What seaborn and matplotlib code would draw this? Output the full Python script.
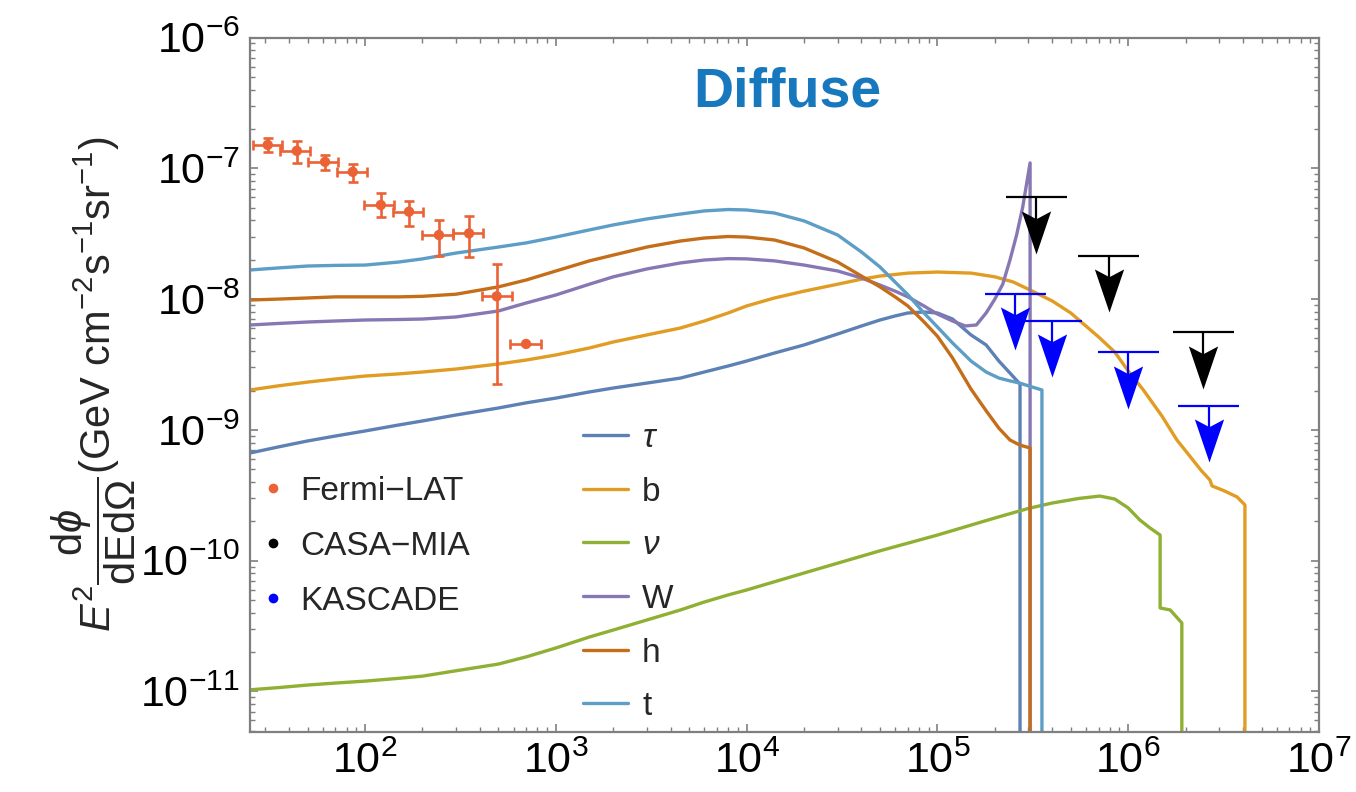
import numpy as np
import matplotlib
matplotlib.use("Agg")
import matplotlib.pyplot as plt
import seaborn as sns
from matplotlib.path import Path
from matplotlib.ticker import FixedLocator, LogLocator, LogFormatterSciNotation, NullFormatter

# ---------------- data: E [GeV], E^2 dphi/dE dOmega [GeV cm^-2 s^-1 sr^-1] ----------------
tau_E = [25, 35, 50, 70, 100, 150, 200, 300, 500, 700, 1e3, 1.5e3, 2e3, 3e3, 4.5e3, 6e3,
         8e3, 1e4, 1.4e4, 2e4, 3e4, 4e4, 5e4, 6e4, 7e4, 8.5e4, 1e5, 1.2e5, 1.5e5, 1.8e5,
         2.1e5, 2.4e5, 2.71e5, 2.71e5]
tau_F = [6.66e-10, 7.40e-10, 8.23e-10, 8.98e-10, 9.81e-10, 1.09e-9, 1.17e-9, 1.30e-9,
         1.47e-9, 1.61e-9, 1.75e-9, 1.95e-9, 2.09e-9, 2.28e-9, 2.49e-9, 2.77e-9, 3.08e-9,
         3.36e-9, 3.87e-9, 4.46e-9, 5.41e-9, 6.23e-9, 6.92e-9, 7.43e-9, 7.83e-9, 7.97e-9,
         7.83e-9, 7.04e-9, 5.32e-9, 4.46e-9, 3.36e-9, 2.72e-9, 2.24e-9, 1e-13]

b_E = [25, 35, 50, 70, 100, 150, 200, 300, 500, 700, 1e3, 1.5e3, 2e3, 3e3, 4.5e3, 6e3,
       8e3, 1e4, 1.4e4, 2e4, 3e4, 4e4, 5e4, 7e4, 1e5, 1.5e5, 2e5, 2.5e5, 3e5, 4e5, 5e5,
       7e5, 8.5e5, 1e6, 1.2e6, 1.5e6, 1.8e6, 2.1e6, 2.4e6, 2.68e6, 2.75e6, 3.2e6, 3.72e6,
       4.09e6, 4.09e6]
b_F = [2.02e-9, 2.17e-9, 2.32e-9, 2.45e-9, 2.58e-9, 2.68e-9, 2.77e-9, 2.92e-9, 3.19e-9,
       3.42e-9, 3.74e-9, 4.23e-9, 4.70e-9, 5.32e-9, 6.01e-9, 6.80e-9, 7.83e-9, 8.86e-9,
       1.02e-8, 1.15e-8, 1.30e-8, 1.42e-8, 1.50e-8, 1.58e-8, 1.61e-8, 1.58e-8, 1.48e-8,
       1.35e-8, 1.19e-8, 9.67e-9, 7.83e-9, 5.13e-9, 3.94e-9, 2.82e-9, 2.02e-9, 1.28e-9,
       8.37e-10, 6.32e-10, 4.94e-10, 4.14e-10, 3.73e-10, 3.41e-10, 3.07e-10, 2.67e-10,
       1e-13]

nu_E = [25, 35, 50, 70, 100, 150, 200, 300, 500, 700, 1e3, 1.5e3, 2e3, 3e3, 4.5e3, 6e3,
        8e3, 1e4, 2e4, 5e4, 1e5, 2e5, 3e5, 4e5, 5.5e5, 7.1e5, 8.5e5, 1e6, 1.15e6, 1.3e6,
        1.47e6, 1.47e6, 1.66e6, 1.91e6, 1.91e6]
nu_F = [1.03e-11, 1.07e-11, 1.12e-11, 1.16e-11, 1.20e-11, 1.26e-11, 1.31e-11, 1.44e-11,
        1.62e-11, 1.84e-11, 2.15e-11, 2.61e-11, 2.95e-11, 3.52e-11, 4.20e-11, 4.83e-11,
        5.47e-11, 5.97e-11, 8.05e-11, 1.19e-10, 1.57e-10, 2.12e-10, 2.51e-10, 2.76e-10,
        2.99e-10, 3.12e-10, 2.96e-10, 2.53e-10, 2.05e-10, 1.78e-10, 1.57e-10, 4.35e-11,
        4.20e-11, 3.34e-11, 1e-13]

W_E = [25, 35, 50, 70, 100, 150, 200, 300, 500, 700, 1e3, 1.5e3, 2e3, 3e3, 4.5e3, 6e3,
       8e3, 1e4, 1.4e4, 2e4, 3e4, 4e4, 5e4, 6e4, 7e4, 8.5e4, 1e5, 1.2e5, 1.4e5, 1.6e5,
       1.8e5, 2.0e5, 2.2e5, 2.4e5, 2.6e5, 2.8e5, 3.06e5, 3.06e5]
W_F = [6.34e-9, 6.51e-9, 6.68e-9, 6.80e-9, 6.92e-9, 6.98e-9, 7.04e-9, 7.30e-9, 8.11e-9,
       9.34e-9, 1.075e-8, 1.30e-8, 1.48e-8, 1.70e-8, 1.89e-8, 1.99e-8, 2.04e-8, 2.03e-8,
       1.96e-8, 1.82e-8, 1.64e-8, 1.45e-8, 1.28e-8, 1.15e-8, 1.04e-8, 8.86e-9, 7.69e-9,
       6.80e-9, 6.23e-9, 6.34e-9, 7.83e-9, 1.0e-8, 1.30e-8, 1.99e-8, 3.09e-8, 5.06e-8,
       1.10e-7, 1e-13]

h_E = [25, 35, 50, 70, 100, 150, 200, 300, 500, 700, 1e3, 1.5e3, 2e3, 3e3, 4.5e3, 6e3,
       8e3, 1e4, 1.4e4, 2e4, 3e4, 4e4, 5e4, 6e4, 7e4, 8.5e4, 1e5, 1.2e5, 1.5e5, 1.8e5,
       2.1e5, 2.4e5, 2.7e5, 3.06e5, 3.06e5]
h_F = [9.84e-9, 1.0e-8, 1.02e-8, 1.04e-8, 1.04e-8, 1.04e-8, 1.05e-8, 1.09e-8, 1.24e-8,
       1.40e-8, 1.64e-8, 1.96e-8, 2.17e-8, 2.50e-8, 2.78e-8, 2.93e-8, 3.01e-8, 2.98e-8,
       2.83e-8, 2.46e-8, 1.92e-8, 1.50e-8, 1.24e-8, 1.04e-8, 8.86e-9, 6.7e-9, 5.2e-9,
       3.55e-9, 2.05e-9, 1.40e-9, 1.03e-9, 8.37e-10, 7.66e-10, 7.27e-10, 1e-13]

t_E = [25, 35, 50, 70, 100, 150, 200, 300, 500, 700, 1e3, 1.5e3, 2e3, 3e3, 4.5e3, 6e3,
       8e3, 1e4, 1.4e4, 2e4, 3e4, 4e4, 5e4, 6e4, 7e4, 8.5e4, 1e5, 1.2e5, 1.5e5, 1.8e5,
       2.1e5, 2.4e5, 2.7e5, 3e5, 3.53e5, 3.53e5]
t_F = [1.67e-8, 1.73e-8, 1.79e-8, 1.81e-8, 1.82e-8, 1.92e-8, 2.03e-8, 2.25e-8, 2.50e-8,
       2.69e-8, 2.98e-8, 3.38e-8, 3.69e-8, 4.10e-8, 4.47e-8, 4.72e-8, 4.84e-8, 4.80e-8,
       4.55e-8, 3.96e-8, 3.09e-8, 2.29e-8, 1.76e-8, 1.35e-8, 1.08e-8, 7.83e-9, 6.12e-9,
       4.62e-9, 3.36e-9, 2.77e-9, 2.49e-9, 2.37e-9, 2.28e-9, 2.17e-9, 2.02e-9, 1e-13]

# Fermi-LAT diffuse measurements with energy bins and flux errors
fermi_E = [30.9, 43.9, 61.7, 86.2, 121, 170, 244, 351, 490, 698]
fermi_Elo = [26.0, 35.8, 50.4, 71.6, 98.8, 140, 198, 290, 409, 575]
fermi_Ehi = [36.6, 51.5, 72.4, 102, 142, 202, 290, 417, 587, 833]
fermi_F = [1.51e-7, 1.36e-7, 1.12e-7, 9.4e-8, 5.24e-8, 4.66e-8, 3.09e-8, 3.18e-8,
           1.05e-8, 4.54e-9]
fermi_Flo = [1.34e-7, 1.09e-7, 9.7e-8, 7.9e-8, 4.22e-8, 3.62e-8, 2.14e-8, 2.09e-8,
             2.24e-9, 4.54e-9]
fermi_Fhi = [1.69e-7, 1.63e-7, 1.26e-7, 1.08e-7, 6.44e-8, 5.65e-8, 4.03e-8, 4.32e-8,
             1.85e-8, 4.54e-9]

# upper limits
casa_E = [3.3e5, 7.9e5, 2.48e6]
casa_F = [6.0e-8, 2.14e-8, 5.57e-9]
kascade_E = [2.56e5, 3.98e5, 1.0e6, 2.65e6]
kascade_F = [1.09e-8, 6.84e-9, 3.92e-9, 1.52e-9]

channel_labels = [r"$\tau$", "b", r"$\nu$", "W", "h", "t"]
channel_colors = ["#5e81b5", "#e19c24", "#8fb032", "#8778b3", "#c56e1a", "#5d9ec7"]
channel_E = [tau_E, b_E, nu_E, W_E, h_E, t_E]
channel_F = [tau_F, b_F, nu_F, W_F, h_F, t_F]

data_labels = ["Fermi\u2212LAT", "CASA\u2212MIA", "KASCADE"]
data_colors = ["#eb6235", "#000000", "#0000ff"]

x_decades = [1e2, 1e3, 1e4, 1e5, 1e6, 1e7]
y_decades = [1e-11, 1e-10, 1e-9, 1e-8, 1e-7, 1e-6]

# ---------------- style ----------------
sns.set_theme(style="ticks")
plt.rcParams["font.family"] = ["Liberation Sans", "DejaVu Sans"]
plt.rcParams["mathtext.fontset"] = "custom"
plt.rcParams["mathtext.rm"] = "Liberation Sans"
plt.rcParams["mathtext.it"] = "Liberation Sans:italic"
plt.rcParams["mathtext.bf"] = "Liberation Sans:bold"
plt.rcParams["mathtext.sf"] = "Liberation Sans"

FRAME = "#7f7f7f"
BAR_DEX = 0.16      # half-width of upper-limit bars (decades)
ARROW_DEX = 0.43    # bar-to-tip length of upper-limit arrows (decades)

# notched arrow head, tip at the origin, body pointing up
ARROW_HEAD = Path([(0, 0), (-0.34, 1.0), (0, 0.82), (0.34, 1.0), (0, 0)],
                  [Path.MOVETO, Path.LINETO, Path.LINETO, Path.LINETO, Path.CLOSEPOLY])

fig = plt.figure(figsize=(13.56, 7.92), dpi=100)
ax = fig.add_axes([0.1840, 0.07576, 0.78872, 0.87689])
ax.set_xscale("log")
ax.set_yscale("log")

# model curves
for E, F, col in zip(channel_E, channel_F, channel_colors):
    sns.lineplot(x=E, y=F, ax=ax, color=col, lw=2.4, estimator=None, sort=False,
                 legend=False)

# Fermi-LAT points
E = np.array(fermi_E)
F = np.array(fermi_F)
ax.errorbar(E, F,
            xerr=[E - np.array(fermi_Elo), np.array(fermi_Ehi) - E],
            yerr=[F - np.array(fermi_Flo), np.array(fermi_Fhi) - F],
            fmt="none", ecolor=data_colors[0], elinewidth=1.9, capsize=3.8,
            capthick=1.9, zorder=5)
sns.scatterplot(x=fermi_E, y=fermi_F, ax=ax, color=data_colors[0], s=55,
                edgecolor="none", zorder=6, legend=False)


def upper_limits(Es, Fs, color):
    for e, f in zip(Es, Fs):
        ax.plot([e / 10 ** BAR_DEX, e * 10 ** BAR_DEX], [f, f], color=color, lw=1.6,
                zorder=7, solid_capstyle="butt")
        ax.plot([e, e], [f, f / 10 ** (ARROW_DEX * 0.5)], color=color, lw=1.6,
                zorder=7, solid_capstyle="butt")
        ax.plot([e], [f / 10 ** ARROW_DEX], marker=ARROW_HEAD, ms=62, color=color,
                mec="none", zorder=7, linestyle="none")


upper_limits(casa_E, casa_F, data_colors[1])
upper_limits(kascade_E, kascade_F, data_colors[2])

# axes, ticks, frame
ax.set_xlim(24.8, 1e7)
ax.set_ylim(4.9e-12, 1e-6)
ax.xaxis.set_major_locator(FixedLocator(x_decades))
ax.yaxis.set_major_locator(FixedLocator(y_decades))
ax.xaxis.set_minor_locator(LogLocator(base=10, subs=np.arange(2, 10), numticks=200))
ax.yaxis.set_minor_locator(LogLocator(base=10, subs=np.arange(2, 10), numticks=200))
ax.xaxis.set_major_formatter(LogFormatterSciNotation())
ax.yaxis.set_major_formatter(LogFormatterSciNotation())
ax.xaxis.set_minor_formatter(NullFormatter())
ax.yaxis.set_minor_formatter(NullFormatter())
ax.tick_params(which="both", direction="in", top=True, right=True, color=FRAME)
ax.tick_params(which="major", length=6, width=1.2, labelsize=31, pad=7,
               labelcolor="black")
ax.tick_params(which="minor", length=3.5, width=1.0)
for sp in ax.spines.values():
    sp.set_color(FRAME)
    sp.set_linewidth(1.6)
ax.grid(False)

ax.set_xlabel("")
ax.set_ylabel(r"$E^2\dfrac{\mathrm{d}\phi}{\mathrm{dEd}\Omega}$(GeV cm$^{-2}$s$^{-1}$sr$^{-1}$)",
              fontsize=30)
ax.yaxis.set_label_coords(-0.104, 0.50)

ax.text(0.503, 0.90, "Diffuse", transform=ax.transAxes, ha="center", va="baseline",
        fontsize=40, fontweight="bold", color="#1778bd")

# legend for measurements
for i, (lab, col) in enumerate(zip(data_labels, data_colors)):
    y = 0.3509 - i * 0.0792
    ax.plot([0.0223], [y], "o", transform=ax.transAxes, ms=7, color=col, mec="none")
    ax.text(0.0472, y, lab, transform=ax.transAxes, fontsize=24, va="center_baseline",
            ha="left")

# legend for annihilation channels
for i, (lab, col) in enumerate(zip(channel_labels, channel_colors)):
    y = 0.4276 - i * 0.0773
    ax.plot([0.3118, 0.3539], [y, y], transform=ax.transAxes, color=col, lw=2.4)
    ax.text(0.367, y, lab, transform=ax.transAxes, fontsize=24, va="center_baseline",
            ha="left")

fig.savefig("out.png", dpi=100)
